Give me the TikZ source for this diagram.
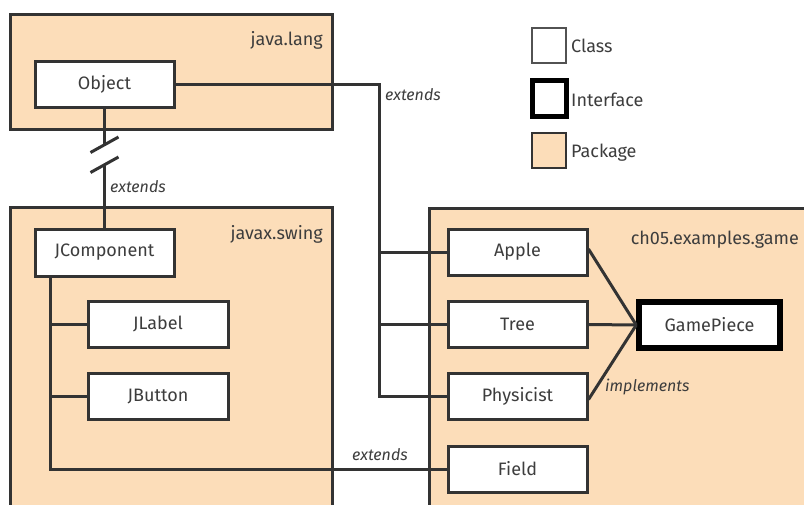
\documentclass[tikz,border=0pt]{standalone}
\usepackage{fontspec}
\setmainfont{Fira Sans}
\definecolor{peach}{HTML}{FCDDB9}
\definecolor{ink}{HTML}{333333}
\definecolor{txt}{HTML}{3D3D3D}
\begin{document}
\begin{tikzpicture}[x=1pt,y=-1pt,
  pkg/.style={draw=ink,fill=peach,line width=3pt},
  pkglabel/.style={anchor=east,text=txt,font=\fontsize{18}{20}\selectfont,inner sep=0pt},
  cls/.style={draw=ink,fill=white,line width=3pt,minimum width=139pt,minimum height=46pt,inner sep=0pt,text=txt,font=\fontsize{18}{20}\selectfont},
  iface/.style={cls,line width=5.5pt,draw=black,minimum width=141pt},
  conn/.style={draw=ink,line width=3pt},
  rel/.style={text=txt,font=\fontsize{16}{18}\selectfont\itshape,inner sep=0pt},
  legtext/.style={anchor=west,text=txt,font=\fontsize{18}{20}\selectfont,inner sep=0pt}]
\useasboundingbox (0,0) rectangle (804,504);
\clip (0,0) rectangle (804,504);
\fill[white] (0,0) rectangle (804,504);
% packages
\draw[pkg] (10,14) rectangle (332,129);
\draw[pkg] (10,207) rectangle (332,530);
\draw[pkg] (429,208) rectangle (830,530);
\node[pkglabel] (lang) at (323,40) {java.lang};
\node[pkglabel] (swing) at (323,234) {javax.swing};
\node[pkglabel] (game) at (799,240) {ch05.examples.game};
% classes
\node[cls] (object) at (104.5,84) {Object};
\node[cls,minimum height=47pt] (jcomp) at (104.5,252.5) {JComponent};
\node[cls,minimum width=140pt] (jlabel) at (158,324) {JLabel};
\node[cls,minimum width=140pt] (jbutton) at (158,396.5) {JButton};
\node[cls] (apple) at (517.5,252) {Apple};
\node[cls] (tree) at (517.5,324.5) {Tree};
\node[cls] (phys) at (517.5,396.5) {Physicist};
\node[cls] (field) at (517.5,469) {Field};
\node[iface] (game) at (709.5,325) {GamePiece};
% Object -> game classes
\coordinate (ext) at (379,0);
\draw[conn,line join=miter] (object.east) -| (ext |- phys.west) -- (phys.west);
\draw[conn] (ext |- apple.west) -- (apple.west);
\draw[conn] (ext |- tree.west) -- (tree.west);
\node[rel,anchor=west] (ext1) at (385,95) {extends};
% Object -> JComponent with break
\coordinate (b1) at (104.5,144.5);
\coordinate (b2) at (104.5,164.5);
\draw[conn] (object.south) -- (b1);
\draw[conn] (b2) -- (jcomp.north);
\draw[conn] ([shift={(-14,8)}]b1) -- ([shift={(14,-7.5)}]b1);
\draw[conn] ([shift={(-14,8)}]b2) -- ([shift={(14,-7.5)}]b2);
\node[rel,anchor=west] (ext2) at (110,187) {extends};
% JComponent -> subclasses and Field
\coordinate (jx) at (50,0);
\draw[conn,line join=miter] (jx |- jcomp.south) |- (field.west);
\draw[conn] (jx |- jlabel.west) -- (jlabel.west);
\draw[conn] (jx |- jbutton.west) -- (jbutton.west);
\node[rel,anchor=west] (ext3) at (352,455) {extends};
% implements
\draw[conn] ([yshift=3pt]apple.east) -- (game.west);
\draw[conn] (tree.east) -- (game.west);
\draw[conn] ([yshift=-3pt]phys.east) -- (game.west);
\node[rel,anchor=west] (impl) at (605,387) {implements};
% legend
\node[draw=ink!85,line width=2.5pt,fill=white,minimum width=34pt,minimum height=35pt,inner sep=0pt] (lclass) at (549,45.5) {};
\node[draw=black,line width=5pt,fill=white,minimum width=34pt,minimum height=36pt,inner sep=0pt] (liface) at (549,98) {};
\node[draw=ink,line width=2.5pt,fill=peach,minimum width=34pt,minimum height=35pt,inner sep=0pt] (lpkg) at (549,150.5) {};
\node[legtext] (tclass) at (571,46) {Class};
\node[legtext] (tiface) at (571,100) {Interface};
\node[legtext] (tpkg) at (571,153) {Package};
\end{tikzpicture}
\end{document}
